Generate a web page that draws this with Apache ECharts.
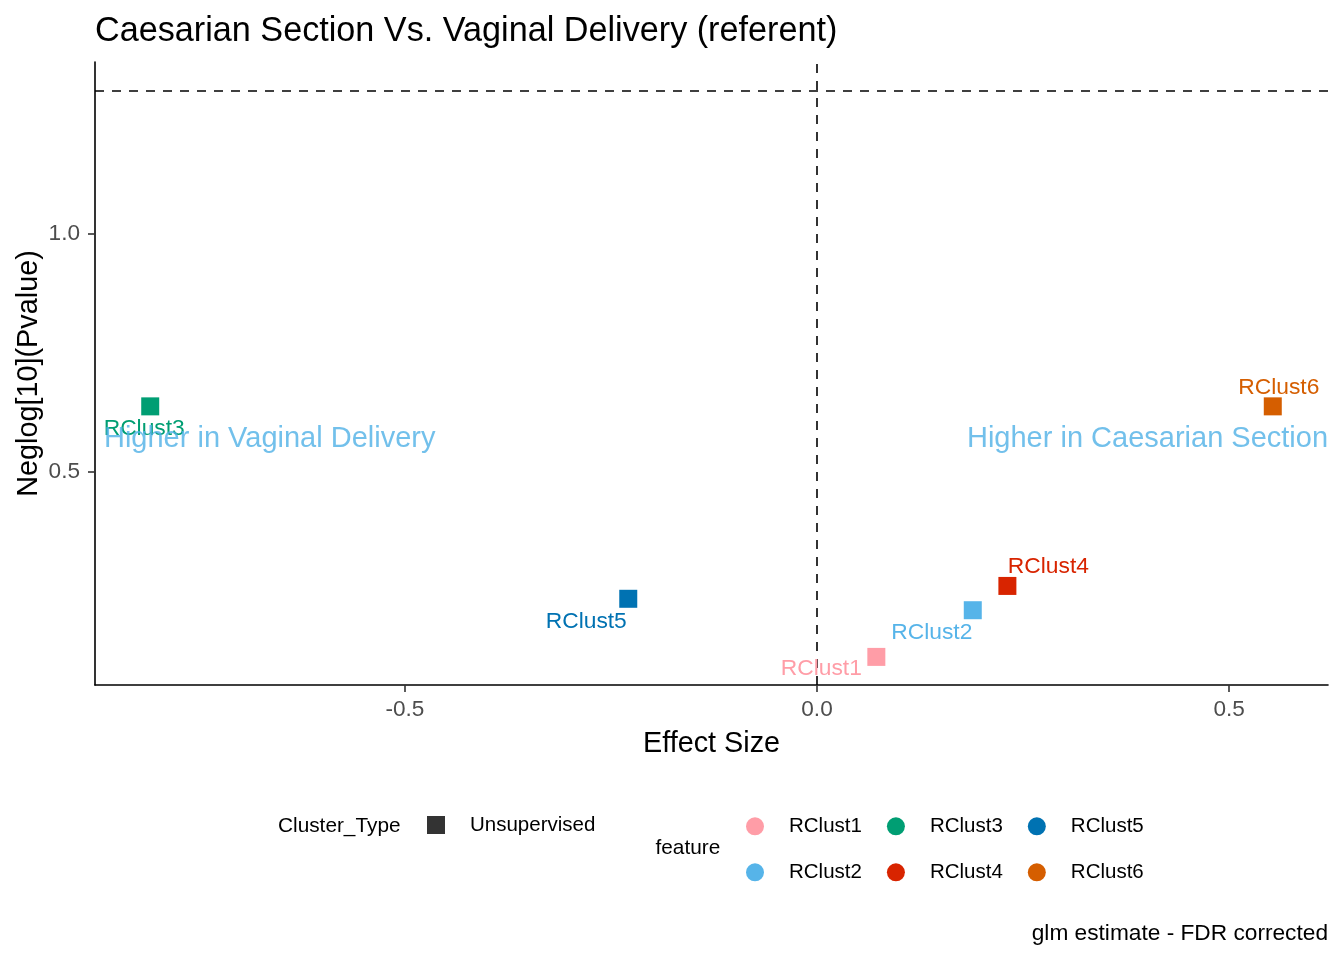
<!DOCTYPE html>
<html>
<head>
<meta charset="utf-8">
<title>Caesarian Section Vs. Vaginal Delivery</title>
<script src="https://cdn.jsdelivr.net/npm/echarts@6/dist/echarts.min.js"></script>
<style>
  html, body { margin: 0; padding: 0; background: #fff; }
  #chart { width: 1344px; height: 960px; }
</style>
</head>
<body>
<div id="chart"></div>
<script>
// data
const features = ["RClust1", "RClust2", "RClust3", "RClust4", "RClust5", "RClust6"];
const effectSize = [0.072, 0.189, -0.809, 0.231, -0.229, 0.553];
const negLogP = [0.111, 0.209, 0.637, 0.260, 0.233, 0.637];
const clusterTypes = ["Unsupervised"];
const pThreshold = 1.301; // -log10(0.05)
const xTicks = [-0.5, 0, 0.5];
const yTicks = [0.5, 1.0];
const notes = ["Higher in Vaginal Delivery", "Higher in Caesarian Section"];
const noteX = [-0.664, 0.401];
const noteY = [0.568, 0.568];

// styling
const featureColors = ["#FF9DA7", "#56B4E9", "#009E73", "#D82400", "#0072B2", "#D55E00"];
const labelOffsets = [[-55, 12], [-41, 22], [-6, 22], [41, -19], [-42, 23], [6, -19]];
const FONT = "'Liberation Sans', Arial, sans-serif";

const chart = echarts.init(document.getElementById("chart"));
window.addEventListener("resize", () => chart.resize());

const pointSeries = features.map((f, i) => ({
  name: f,
  type: "scatter",
  symbol: "rect",
  symbolSize: 18,
  itemStyle: { color: featureColors[i], opacity: 1 },
  data: [[effectSize[i], negLogP[i]]],
  label: {
    show: true,
    position: "inside",
    offset: labelOffsets[i],
    formatter: f,
    color: featureColors[i],
    fontSize: 22.8,
    fontFamily: FONT
  },
  z: 3
}));

// dashed reference lines
pointSeries[0].markLine = {
  silent: true,
  symbol: "none",
  label: { show: false },
  lineStyle: { type: [9, 8], color: "#000", width: 1.6 },
  data: [{ xAxis: 0 }, { yAxis: pThreshold }],
  z: 1
};

// Cluster_Type only feeds the legend
const typeSeries = clusterTypes.map(t => ({
  name: t,
  type: "scatter",
  symbol: "rect",
  itemStyle: { color: "#000" },
  data: []
}));

const noteSeries = {
  name: "notes",
  type: "scatter",
  symbolSize: 0,
  silent: true,
  data: notes.map((n, i) => ({ value: [noteX[i], noteY[i]], name: n })),
  label: {
    show: true,
    position: "inside",
    formatter: p => p.name,
    color: "#4FB0E6",
    fontSize: 29,
    fontFamily: FONT
  },
  z: 5
};

const legendBase = {
  orient: "horizontal",
  padding: 0,
  itemWidth: 18,
  itemHeight: 18,
  itemGap: 25,
  selectedMode: false,
  textStyle: { fontSize: 20.5, color: "#000", fontFamily: FONT, padding: [4, 0, 0, 20] }
};

chart.setOption({
  backgroundColor: "#fff",
  textStyle: { fontFamily: FONT },
  animation: false,
  title: [
    {
      text: "Caesarian Section Vs. Vaginal Delivery (referent)",
      left: 95,
      top: 15,
      padding: 0,
      textStyle: { fontSize: 34.2, fontWeight: "normal", color: "#000", fontFamily: FONT }
    },
    {
      text: "glm estimate - FDR corrected",
      right: 16,
      top: 922,
      padding: 0,
      textStyle: { fontSize: 22.7, fontWeight: "normal", color: "#000", fontFamily: FONT }
    }
  ],
  grid: { left: 95, right: 16, top: 62, bottom: 275, containLabel: false },
  xAxis: {
    type: "value",
    min: -0.876,
    max: 0.62,
    name: "Effect Size",
    nameLocation: "middle",
    nameGap: 45,
    nameMoveOverlap: false,
    nameTextStyle: { fontSize: 28.8, color: "#000", fontFamily: FONT },
    axisLine: { onZero: false, lineStyle: { color: "#000", width: 1.6 } },
    axisTick: { show: true, length: 7, customValues: xTicks, lineStyle: { color: "#333", width: 1.6 } },
    axisLabel: {
      customValues: xTicks,
      formatter: v => v.toFixed(1),
      fontSize: 22.6,
      color: "#4D4D4D",
      margin: 13,
      fontFamily: FONT
    },
    splitLine: { show: false }
  },
  yAxis: {
    type: "value",
    min: 0.052,
    max: 1.36,
    name: "Neglog[10](Pvalue)",
    nameLocation: "middle",
    nameGap: 51,
    nameMoveOverlap: false,
    nameTextStyle: { fontSize: 28.8, color: "#000", fontFamily: FONT },
    axisLine: { show: true, onZero: false, lineStyle: { color: "#000", width: 1.6 } },
    axisTick: { show: true, length: 7, customValues: yTicks, lineStyle: { color: "#333", width: 1.6 } },
    axisLabel: {
      customValues: yTicks,
      formatter: v => v.toFixed(1),
      fontSize: 22.6,
      color: "#4D4D4D",
      margin: 15,
      fontFamily: FONT
    },
    splitLine: { show: false }
  },
  legend: [
    Object.assign({}, legendBase, {
      data: clusterTypes.map(t => ({ name: t, itemStyle: { color: "#000", borderWidth: 0 } })),
      icon: "rect", left: 427, top: 814.5
    }),
    Object.assign({}, legendBase, { data: ["RClust1", "RClust3", "RClust5"], icon: "circle", left: 746, top: 815.8 }),
    Object.assign({}, legendBase, { data: ["RClust2", "RClust4", "RClust6"], icon: "circle", left: 746, top: 861.8 })
  ],
  graphic: [
    { type: "text", x: 278, y: 826.5, style: { text: "Cluster_Type", fill: "#000", font: "20.8px " + FONT, verticalAlign: "middle" } },
    { type: "text", x: 655.5, y: 848.5, style: { text: "feature", fill: "#000", font: "20.8px " + FONT, verticalAlign: "middle" } }
  ],
  series: pointSeries.concat(typeSeries, [noteSeries])
});
</script>
</body>
</html>
